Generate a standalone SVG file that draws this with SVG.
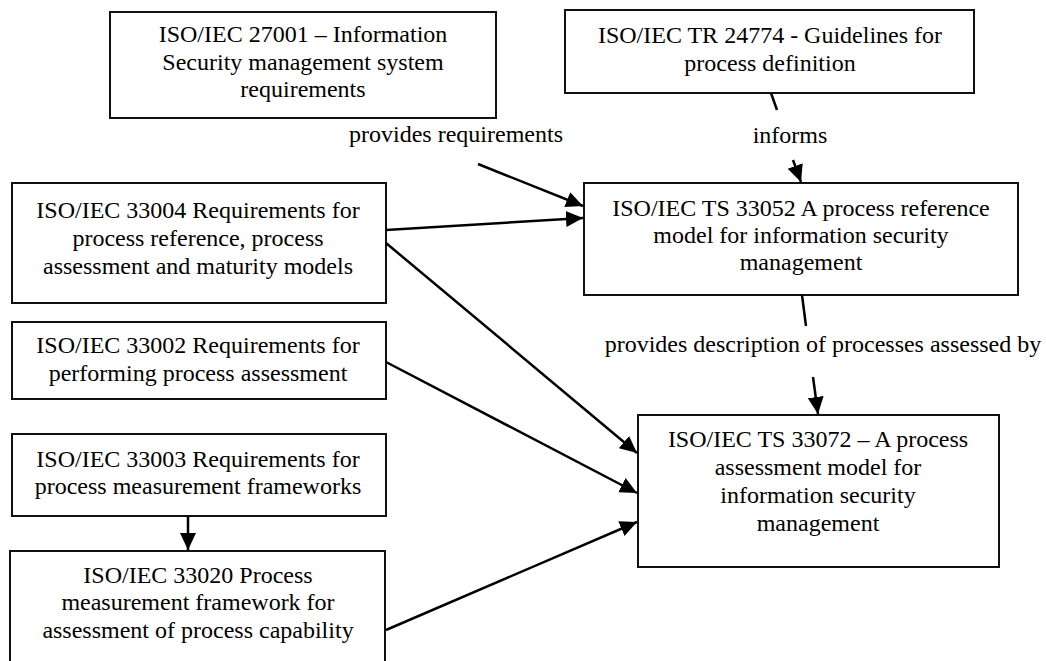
<svg xmlns="http://www.w3.org/2000/svg" width="1046" height="661" viewBox="0 0 1046 661">
<style>
.box{fill:#fff;stroke:#111;stroke-width:2}
.t{font-family:"Liberation Serif","Times New Roman",serif;font-size:24px;fill:#000;text-anchor:middle}
.c{stroke:#000;stroke-width:2.5;fill:none}
</style>
<defs>
<marker id="ah" markerUnits="userSpaceOnUse" markerWidth="20" markerHeight="18" refX="17" refY="9" orient="auto">
<path d="M0,1 L17,9 L0,17 Z" fill="#000"/>
</marker>
</defs>
<rect width="1046" height="661" fill="#fff"/>
<g id="n27001">
<rect class="box" x="110" y="12" width="386" height="106"/>
<text class="t" x="303" y="42">ISO/IEC 27001 – Information</text>
<text class="t" x="303" y="70">Security management system</text>
<text class="t" x="303" y="97">requirements</text>
</g>
<g id="n24774">
<rect class="box" x="565" y="10" width="409" height="83"/>
<text class="t" x="770" y="43">ISO/IEC TR 24774 - Guidelines for</text>
<text class="t" x="770" y="71">process definition</text>
</g>
<g id="n33004">
<rect class="box" x="12" y="183" width="374" height="120"/>
<text class="t" x="198" y="218">ISO/IEC 33004 Requirements for</text>
<text class="t" x="198" y="246">process reference, process</text>
<text class="t" x="198" y="274">assessment and maturity models</text>
</g>
<g id="n33052">
<rect class="box" x="584" y="183" width="434" height="112"/>
<text class="t" x="801" y="216">ISO/IEC TS 33052 A process reference</text>
<text class="t" x="801" y="243">model for information security</text>
<text class="t" x="801" y="270">management</text>
</g>
<g id="n33002">
<rect class="box" x="12" y="322" width="374" height="77"/>
<text class="t" x="198" y="353">ISO/IEC 33002 Requirements for</text>
<text class="t" x="198" y="381">performing process assessment</text>
</g>
<g id="n33003">
<rect class="box" x="12" y="434" width="374" height="82"/>
<text class="t" x="198" y="467">ISO/IEC 33003 Requirements for</text>
<text class="t" x="198" y="494">process measurement frameworks</text>
</g>
<g id="n33020">
<rect class="box" x="10" y="551" width="375" height="130"/>
<text class="t" x="198" y="583">ISO/IEC 33020 Process</text>
<text class="t" x="198" y="610">measurement framework for</text>
<text class="t" x="198" y="638">assessment of process capability</text>
</g>
<g id="n33072">
<rect class="box" x="638" y="415" width="361" height="152"/>
<text class="t" x="818" y="447">ISO/IEC TS 33072 – A process</text>
<text class="t" x="818" y="475">assessment model for</text>
<text class="t" x="818" y="503">information security</text>
<text class="t" x="818" y="531">management</text>
</g>
<g id="connectors">
<line class="c" x1="478" y1="164" x2="583" y2="206" marker-end="url(#ah)"/>
<line class="c" x1="386" y1="230" x2="583" y2="218" marker-end="url(#ah)"/>
<line class="c" x1="386" y1="243" x2="637" y2="453" marker-end="url(#ah)"/>
<line class="c" x1="386" y1="362" x2="637" y2="493" marker-end="url(#ah)"/>
<line class="c" x1="386" y1="630" x2="637" y2="522" marker-end="url(#ah)"/>
<line class="c" x1="188" y1="516" x2="188" y2="550" marker-end="url(#ah)"/>
<line class="c" x1="771" y1="93" x2="777" y2="110"/>
<line class="c" x1="793" y1="160" x2="801" y2="182" marker-end="url(#ah)"/>
<line class="c" x1="802" y1="295" x2="806" y2="326"/>
<line class="c" x1="813" y1="377" x2="818" y2="414" marker-end="url(#ah)"/>
<text class="t" x="456" y="142">provides requirements</text>
<text class="t" x="790" y="143">informs</text>
<text class="t" x="823" y="352">provides description of processes assessed by</text>
</g>
</svg>
